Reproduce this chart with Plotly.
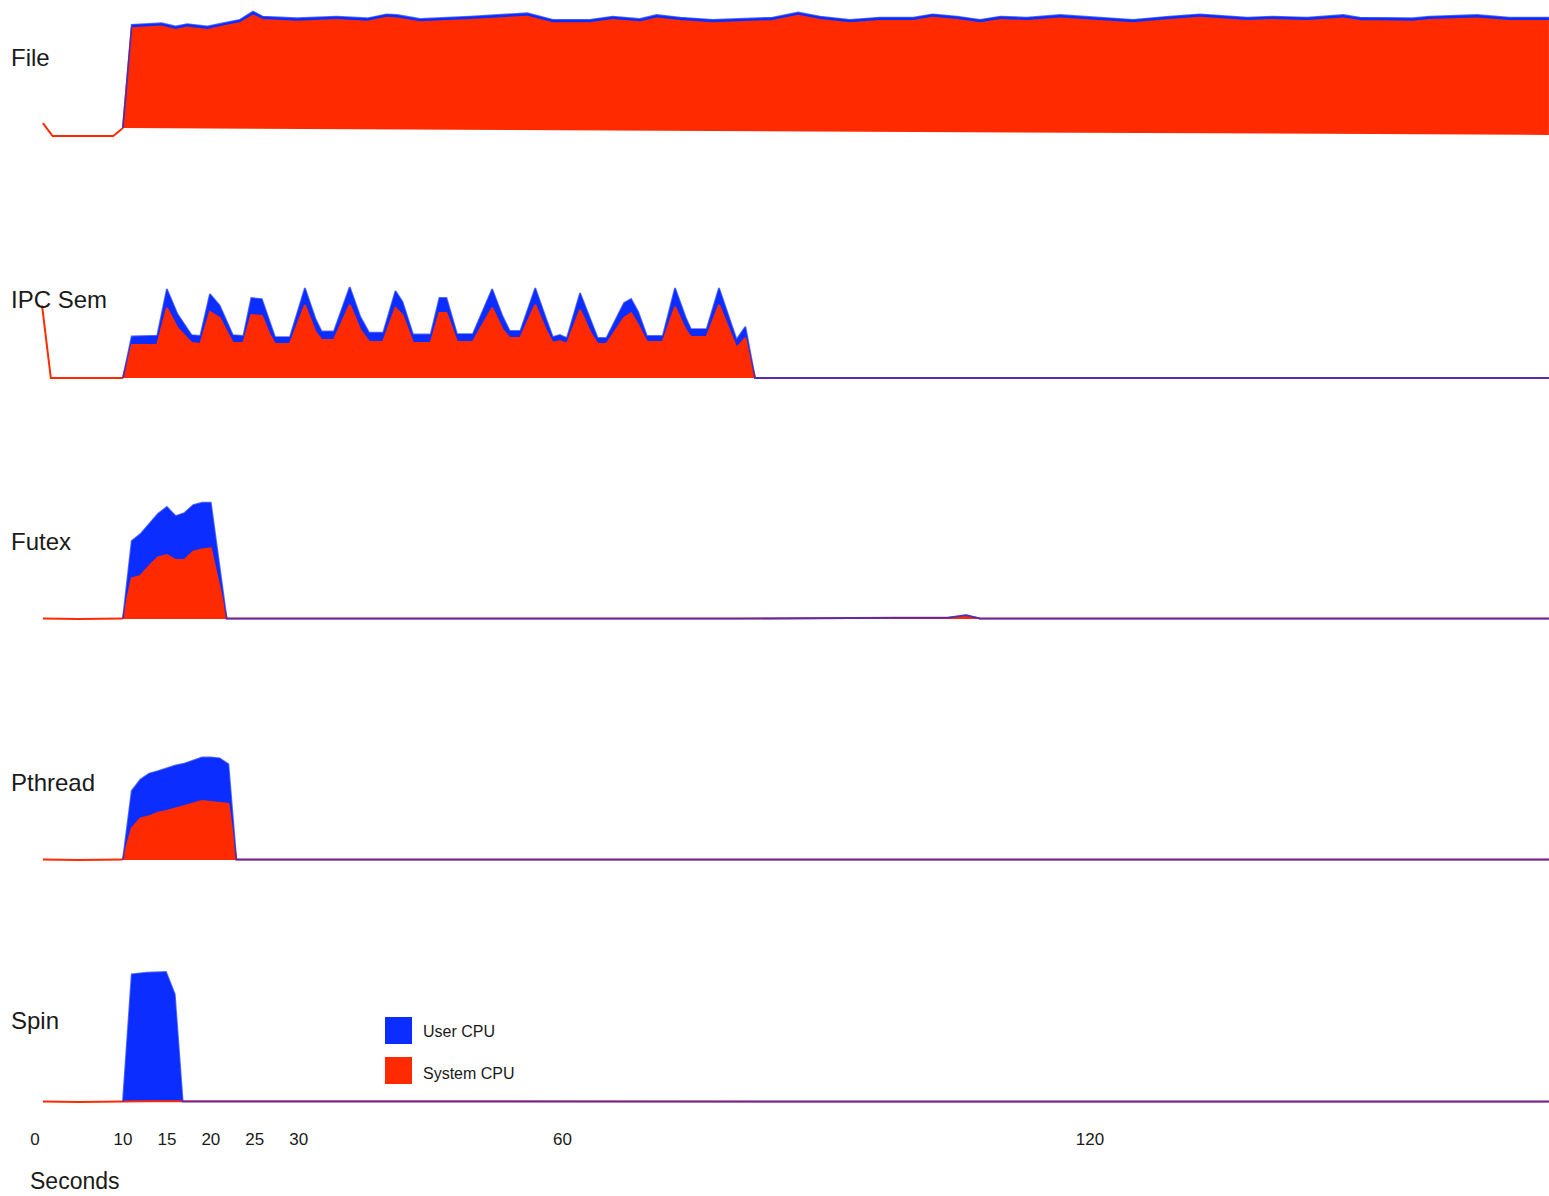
import plotly.graph_objects as go

# ---------------- data (CPU %, time in seconds) ----------------
TICK_VALS = [0, 10, 15, 20, 25, 30, 60, 120]
TICK_TEXT = ["0", "10", "15", "20", "25", "30", "60", "120"]
X_TITLE = "Seconds"
PANEL_NAMES = ["File", "IPC Sem", "Futex", "Pthread", "Spin"]
LEGEND_NAMES = ["User CPU", "System CPU"]

# File
file_pre_t = [0.9, 2.0, 8.9, 10.0]
file_pre_sys = [9.8, 0.0, 0.0, 6.0]
file_floor_t = [10.0, 172.2]
file_floor = [6.0, 0.8]
file_t = [10.0, 11.0, 14.4, 16.0, 17.3, 19.6, 21.4, 23.3, 24.8, 25.9, 29.8, 34.3, 37.8, 40.0, 41.2,
          43.8, 49.5, 56.0, 58.9, 63.1, 65.7, 68.8, 70.7, 73.4, 77.1, 81.0, 83.9, 86.8, 89.3, 92.7,
          96.1, 99.9, 102.1, 104.9, 107.5, 109.8, 112.8, 116.6, 121.1, 124.9, 129.0, 132.5, 137.9,
          140.8, 144.7, 148.8, 150.7, 156.7, 158.6, 164.0, 167.7, 172.2]
file_sys = [6.0, 81.6, 82.9, 80.4, 82.2, 80.4, 82.9, 85.4, 91.2, 87.9, 86.6, 87.9, 86.6, 89.6, 89.1,
            86.1, 87.9, 90.4, 85.4, 85.4, 87.9, 86.1, 89.1, 87.1, 85.4, 86.6, 87.1, 91.0, 87.9, 85.4,
            87.1, 87.1, 89.6, 87.9, 85.4, 87.9, 87.1, 89.1, 87.1, 85.4, 87.9, 89.6, 87.1,
            87.9, 87.1, 89.1, 87.1, 86.6, 87.9, 89.1, 87.1, 87.1]
file_user = [0.0, 2.6, 2.6, 2.6, 2.6, 2.6, 2.6, 2.6, 3.1, 2.6, 2.6, 2.6, 2.6, 2.6, 2.6,
             2.6, 2.6, 2.6, 2.6, 2.6, 2.6, 2.6, 2.6, 2.6, 2.6, 2.6, 2.6, 2.6, 2.6, 2.6,
             2.6, 2.6, 2.6, 2.6, 2.6, 2.6, 2.6, 2.6, 2.6, 2.6, 2.6, 2.6, 2.6,
             2.6, 2.6, 2.6, 2.6, 2.6, 2.6, 2.6, 2.6, 2.6]

# IPC Sem
ipc_pre_t = [0.8, 1.8, 10.0]
ipc_pre_sys = [55.0, 0.0, 0.0]
ipc_t = [10.0, 11.0, 13.9, 15.0, 16.2, 17.8, 18.8, 19.9, 21.0, 22.5, 23.7, 24.6, 25.8, 26.7, 27.3,
         29.0, 30.7, 31.9, 32.6, 34.0, 35.8, 37.0, 38.0, 39.6, 41.0, 41.8, 43.0, 45.0, 46.0, 46.8,
         48.0, 49.8, 52.0, 53.2, 54.0, 55.2, 56.9, 58.1, 58.9, 59.7, 60.5, 62.0, 63.2, 64.0, 65.0,
         67.0, 67.8, 68.6, 69.6, 71.4, 72.8, 74.0, 74.6, 76.4, 77.8, 79.0, 79.8, 80.8, 81.9,
         95.0, 110.0, 125.0, 140.0, 155.0, 172.2]
ipc_sys = [0.0, 25.0, 25.0, 53.0, 37.9, 26.5, 25.8, 50.0, 45.5, 26.5, 26.5, 47.7, 47.0, 32.6, 25.8,
           25.8, 55.3, 34.8, 28.8, 28.8, 55.3, 36.4, 27.3, 27.3, 53.0, 47.7, 26.5, 26.5, 49.2, 49.2,
           27.3, 27.3, 53.0, 36.4, 30.3, 30.3, 55.3, 36.4, 26.5, 28.0, 25.8, 51.5, 34.0, 25.8, 25.8,
           45.5, 49.2, 40.2, 27.3, 27.3, 53.8, 36.4, 31.1, 31.1, 55.3, 36.4, 22.7, 30.3, 0.0,
           0.0, 0.0, 0.0, 0.0, 0.0, 0.0]
ipc_user = [0.0, 6.5, 7.0, 14.4, 10.5, 6.0, 6.0, 13.6, 9.5, 6.0, 5.3, 12.9, 12.8, 10.0, 5.2,
            5.2, 12.9, 10.0, 6.5, 6.5, 13.6, 10.0, 7.0, 7.0, 12.9, 10.0, 6.5, 6.5, 11.4, 11.4,
            6.0, 6.0, 14.4, 10.0, 5.3, 5.3, 12.9, 9.0, 4.5, 4.6, 4.5, 12.9, 9.5, 4.5, 4.5,
            11.3, 10.6, 10.0, 4.5, 4.5, 14.4, 9.5, 6.0, 6.0, 12.9, 9.0, 6.5, 8.5, 0.0,
            0.0, 0.0, 0.0, 0.0, 0.0, 0.0]

# Futex
fut_pre_t = [0.9, 5.0, 10.0]
fut_pre_sys = [0.3, 0.0, 0.3]
fut_t = [10.0, 11.0, 12.0, 13.0, 14.0, 15.0, 16.0, 17.0, 18.0, 19.0, 20.0, 21.8,
         40.0, 60.0, 80.0, 97.8, 103.8, 105.9, 107.5, 125.0, 150.0, 172.2]
fut_sys = [0.3, 30.8, 32.6, 40.2, 46.6, 48.5, 44.7, 44.7, 51.0, 52.7, 53.6, 0.3,
           0.3, 0.3, 0.3, 0.9, 0.9, 2.5, 0.3, 0.3, 0.3, 0.3]
fut_user = [0.0, 28.3, 31.8, 32.0, 33.2, 36.3, 33.3, 35.6, 35.4, 35.4, 34.5, 0.0,
            0.0, 0.0, 0.0, 0.0, 0.0, 0.5, 0.0, 0.0, 0.0, 0.0]

# Pthread
pth_pre_t = [0.9, 5.0, 10.0]
pth_pre_sys = [0.3, 0.0, 0.3]
pth_t = [10.0, 11.0, 12.0, 13.0, 14.0, 15.0, 16.0, 17.0, 18.0, 19.0, 20.0, 21.0, 22.0, 22.9,
         45.0, 70.0, 95.0, 120.0, 145.0, 172.2]
pth_sys = [0.3, 23.9, 31.6, 33.1, 35.8, 37.1, 39.0, 41.1, 42.8, 44.7, 43.9, 43.2, 42.4, 0.3,
           0.3, 0.3, 0.3, 0.3, 0.3, 0.3]
pth_user = [0.0, 28.4, 29.4, 32.4, 31.6, 32.4, 32.6, 32.0, 32.6, 33.0, 33.8, 33.8, 30.1, 0.0,
            0.0, 0.0, 0.0, 0.0, 0.0, 0.0]

# Spin
spin_pre_t = [0.9, 5.0, 10.0]
spin_pre_sys = [0.3, 0.0, 0.3]
spin_t = [10.0, 11.0, 12.7, 14.9, 15.9, 16.8, 40.0, 70.0, 100.0, 130.0, 172.2]
spin_sys = [0.3, 0.6, 0.6, 0.6, 0.6, 0.3, 0.3, 0.3, 0.3, 0.3, 0.3]
spin_user = [0.0, 96.1, 97.4, 97.9, 81.0, 0.0, 0.0, 0.0, 0.0, 0.0, 0.0]

# ---------------- styling / geometry ----------------
W, H = 1549, 1196
RED = "#ff2a00"
BLUE = "#0c2dff"
BLUE_LINE = "rgba(12,45,255,0.7)"
TXT = "#1a1a1a"
FONT = "Liberation Sans, Arial, sans-serif"
BASELINES = [136, 378, 619, 860, 1102]   # pixel row of 0 % in each panel
PX_PER_UNIT = 1.32
Y_MIN, Y_MAX = -5, 100
X_RANGE = [-35 / 8.7917, (W - 35) / 8.7917]


def fy(px):
    return 1 - px / H


def fx(px):
    return px / W


panels = [
    dict(pre_t=file_pre_t, pre=file_pre_sys, t=file_t, sys=file_sys, user=file_user,
         floor_t=file_floor_t, floor=file_floor),
    dict(pre_t=ipc_pre_t, pre=ipc_pre_sys, t=ipc_t, sys=ipc_sys, user=ipc_user),
    dict(pre_t=fut_pre_t, pre=fut_pre_sys, t=fut_t, sys=fut_sys, user=fut_user),
    dict(pre_t=pth_pre_t, pre=pth_pre_sys, t=pth_t, sys=pth_sys, user=pth_user),
    dict(pre_t=spin_pre_t, pre=spin_pre_sys, t=spin_t, sys=spin_sys, user=spin_user),
]

fig = go.Figure()
layout_axes = {}
for i, p in enumerate(panels):
    ya = "y" if i == 0 else f"y{i + 1}"
    B = BASELINES[i]
    # pre-run line (no fill)
    fig.add_trace(go.Scatter(x=p["pre_t"], y=p["pre"], mode="lines", yaxis=ya, xaxis="x",
                             line=dict(color=RED, width=2), hoverinfo="skip", showlegend=False))
    if "floor" in p:
        fig.add_trace(go.Scatter(x=p["floor_t"], y=p["floor"], mode="lines", yaxis=ya, xaxis="x",
                                 line=dict(width=0, color=RED), hoverinfo="skip", showlegend=False))
        sys_fill = "tonexty"
    else:
        sys_fill = "tozeroy"
    fig.add_trace(go.Scatter(x=p["t"], y=p["sys"], mode="lines", yaxis=ya, xaxis="x",
                             fill=sys_fill, fillcolor=RED, line=dict(color=RED, width=2),
                             name=LEGEND_NAMES[1], showlegend=False))
    total = [s + u for s, u in zip(p["sys"], p["user"])]
    fig.add_trace(go.Scatter(x=p["t"], y=total, mode="lines", yaxis=ya, xaxis="x",
                             fill="tonexty", fillcolor=BLUE, line=dict(color=BLUE_LINE, width=1.8),
                             name=LEGEND_NAMES[0], showlegend=False))
    key = "yaxis" if i == 0 else f"yaxis{i + 1}"
    dom_bottom = fy(B - Y_MIN * PX_PER_UNIT)
    dom_top = fy(B - Y_MAX * PX_PER_UNIT)
    layout_axes[key] = dict(domain=[dom_bottom, dom_top], range=[Y_MIN, Y_MAX],
                            showgrid=False, zeroline=False, showticklabels=False,
                            showline=False, ticks="", anchor="x", fixedrange=True)

annotations = []
LABEL_Y = [57, 299, 541, 782, 1020]
for name, ly in zip(PANEL_NAMES, LABEL_Y):
    annotations.append(dict(text=name, xref="paper", yref="paper", x=fx(9), y=fy(ly),
                            xanchor="left", yanchor="middle", showarrow=False,
                            font=dict(size=24, color=TXT, family=FONT)))
annotations.append(dict(text=X_TITLE, xref="paper", yref="paper", x=fx(28), y=fy(1181),
                        xanchor="left", yanchor="middle", showarrow=False,
                        font=dict(size=23, color=TXT, family=FONT)))
# legend
annotations.append(dict(text=LEGEND_NAMES[0], xref="paper", yref="paper", x=fx(421), y=fy(1031),
                        xanchor="left", yanchor="middle", showarrow=False,
                        font=dict(size=16, color=TXT, family=FONT)))
annotations.append(dict(text=LEGEND_NAMES[1], xref="paper", yref="paper", x=fx(421), y=fy(1073),
                        xanchor="left", yanchor="middle", showarrow=False,
                        font=dict(size=16, color=TXT, family=FONT)))
shapes = [
    dict(type="rect", xref="paper", yref="paper", x0=fx(385), x1=fx(412), y0=fy(1044), y1=fy(1017),
         fillcolor=BLUE, line=dict(width=0)),
    dict(type="rect", xref="paper", yref="paper", x0=fx(385), x1=fx(412), y0=fy(1084), y1=fy(1057),
         fillcolor=RED, line=dict(width=0)),
]

fig.update_layout(
    width=W, height=H, autosize=False,
    margin=dict(l=0, r=0, t=0, b=0, pad=0),
    paper_bgcolor="white", plot_bgcolor="rgba(0,0,0,0)",
    showlegend=False,
    xaxis=dict(range=X_RANGE, anchor="free", position=fy(1127), domain=[0, 1],
               tickvals=TICK_VALS, ticktext=TICK_TEXT, ticks="", showgrid=False,
               zeroline=False, showline=False, fixedrange=True,
               tickfont=dict(size=17, color=TXT, family=FONT)),
    annotations=annotations,
    shapes=shapes,
    **layout_axes,
)

fig.write_html("out.html", config={"displayModeBar": False},
               post_script="document.body.style.margin='0px';document.body.style.overflow='hidden';")
